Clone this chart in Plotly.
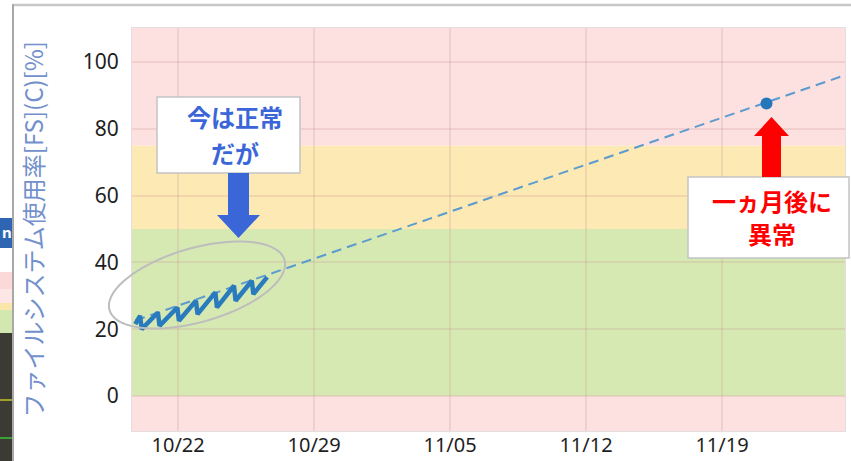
import numpy as np
import plotly.graph_objects as go

# --- data -------------------------------------------------------------
# measured filesystem usage (daily sawtooth), vertex timestamps and values
usage_time = [
    "2020-10-19 19:00", "2020-10-20 01:00", "2020-10-20 03:00",
    "2020-10-20 23:00", "2020-10-21 01:00", "2020-10-21 23:00",
    "2020-10-22 01:00", "2020-10-22 22:00", "2020-10-23 00:00",
    "2020-10-23 22:00", "2020-10-24 00:00", "2020-10-24 21:00",
    "2020-10-24 23:00", "2020-10-25 19:00", "2020-10-25 21:00",
    "2020-10-26 14:00",
]
usage_pct = [
    21.5, 24.0, 20.0,
    25.0, 21.0, 26.5,
    22.5, 28.5, 24.5,
    31.0, 26.5, 33.0,
    28.5, 34.5, 30.5,
    35.6,
]

# linear trend (forecast) line
trend_time = ["2020-10-19 19:00", "2020-11-25 12:00"]
trend_pct = [22.6, 96.4]

# forecast point one month ahead
forecast_time = ["2020-11-21 07:00"]
forecast_pct = [87.6]

# threshold bands (lower, upper, colour)
bands = [
    (-10.5, 0, "#fde0e0"),
    (0, 50, "#d6e9b3"),
    (50, 75, "#fde9b3"),
    (75, 110.2, "#fde0e0"),
]

y_ticks = [0, 20, 40, 60, 80, 100]

# --- layout geometry (pixels) ----------------------------------------
W, H = 851, 461
L, R, T, B = 132, 845, 28, 431


def px(x):
    return (x - L) / (R - L)


def py(y):
    return (B - y) / (B - T)


def poly(points):
    return "M " + " L ".join(f"{px(a):.5f},{py(b):.5f}" for a, b in points) + " Z"


fig = go.Figure()

fig.add_trace(go.Scatter(
    x=trend_time, y=trend_pct, mode="lines",
    line=dict(color="#5b9bd0", width=2, dash="10px,6px"),
    hoverinfo="skip", showlegend=False,
))
fig.add_trace(go.Scatter(
    x=usage_time, y=usage_pct, mode="lines",
    line=dict(color="#2a7bbd", width=4.5),
    showlegend=False,
))
fig.add_trace(go.Scatter(
    x=forecast_time, y=forecast_pct, mode="markers",
    marker=dict(color="#2577bb", size=12),
    showlegend=False,
))

shapes = []
for lo, hi, col in bands:
    shapes.append(dict(type="rect", xref="paper", yref="y", x0=0, x1=1,
                       y0=lo, y1=hi, fillcolor=col, line_width=0, layer="below"))

# neighbouring window strip on the far left
strip = [
    (218, 248, "#2f66b3"),
    (248, 272, "#ffffff"),
    (272, 289, "#fbd9d9"),
    (289, 303, "#fde6e6"),
    (303, 310, "#f9e6a8"),
    (310, 333, "#d3e7b0"),
    (333, 461, "#3b3b34"),
]
for y0, y1, col in strip:
    shapes.append(dict(type="rect", xref="paper", yref="paper",
                       x0=px(0), x1=px(12), y0=py(y1), y1=py(y0),
                       fillcolor=col, line_width=0, layer="above"))
for yl, col in [(400, "#c9c12a"), (438, "#3cc23c")]:
    shapes.append(dict(type="line", xref="paper", yref="paper",
                       x0=px(0), x1=px(12), y0=py(yl), y1=py(yl),
                       line=dict(color=col, width=1.5)))
# window frame lines
shapes.append(dict(type="line", xref="paper", yref="paper",
                   x0=px(13), x1=px(851), y0=py(5), y1=py(5),
                   line=dict(color="#c8c8c8", width=2.5)))
shapes.append(dict(type="line", xref="paper", yref="paper",
                   x0=px(13), x1=px(13), y0=py(4), y1=py(461),
                   line=dict(color="#a8a8a8", width=2)))

# ellipse around the measured data
t = np.linspace(0, 2 * np.pi, 120)
cx, cy, a, b, ang = 197, 285, 91, 37, np.deg2rad(16)
ex = cx + a * np.cos(t) * np.cos(ang) + b * np.sin(t) * np.sin(ang)
ey = cy - a * np.cos(t) * np.sin(ang) + b * np.sin(t) * np.cos(ang)
shapes.append(dict(type="path", xref="paper", yref="paper",
                   path=poly(list(zip(ex, ey))),
                   line=dict(color="#bdbdbd", width=2), fillcolor="rgba(0,0,0,0)"))

# call-out boxes
shapes.append(dict(type="rect", xref="paper", yref="paper",
                   x0=px(157), x1=px(300), y0=py(173), y1=py(97),
                   fillcolor="white", line=dict(color="#c4c4c4", width=1.5)))
shapes.append(dict(type="rect", xref="paper", yref="paper",
                   x0=px(688), x1=px(849), y0=py(258), y1=py(177),
                   fillcolor="white", line=dict(color="#c4c4c4", width=1.5)))

# block arrows
blue_arrow = [(228, 173), (249, 173), (249, 215), (260, 215), (238.5, 238),
              (217, 215), (228, 215)]
red_arrow = [(762, 177), (781, 177), (781, 136), (789, 136), (771.5, 117),
             (754, 136), (762, 136)]
shapes.append(dict(type="path", xref="paper", yref="paper", path=poly(blue_arrow),
                   fillcolor="#3b66d8", line_width=0))
shapes.append(dict(type="path", xref="paper", yref="paper", path=poly(red_arrow),
                   fillcolor="#ff0000", line_width=0))

cjk = "Noto Sans CJK JP"


def label(text, x, y, size, color, family=cjk, angle=0):
    return dict(text=text, xref="paper", yref="paper", x=px(x), y=py(y),
                textangle=angle, showarrow=False,
                xanchor="center", yanchor="middle",
                font=dict(family=family, size=size, color=color))


annotations = [
    label("ファイルシステム使用率[FS](C)[%]", 32, 229.5, 24, "#7290cc", angle=-90),
    label("<b>今は正常</b>", 235, 117, 24, "#3b66d8"),
    label("<b>だが</b>", 235, 152, 24, "#3b66d8"),
    label("<b>一ヵ月後に</b>", 772, 200, 24, "#ff0000"),
    label("<b>異常</b>", 772, 234, 24, "#ff0000"),
    label("<b>n</b>", 7, 232, 15, "white", family="Noto Sans"),
]

grid = "rgba(200,140,140,0.2)"
fig.update_layout(
    width=W, height=H, autosize=False,
    margin=dict(l=L, r=W - R, t=T, b=H - B, pad=0),
    paper_bgcolor="white", plot_bgcolor="white",
    shapes=shapes, annotations=annotations, showlegend=False,
    xaxis=dict(
        type="date", range=["2020-10-19 15:00", "2020-11-25 08:00"],
        tick0="2020-10-22", dtick=7 * 86400000, tickformat="%m/%d",
        showgrid=True, gridcolor=grid, gridwidth=1.5,
        showline=True, mirror=True, linecolor="#e6dede", linewidth=1,
        ticks="", ticklabelstandoff=-4,
        tickfont=dict(family="Noto Sans", size=20, color="#1e1e1e"),
        zeroline=False, automargin=False,
    ),
    yaxis=dict(
        range=[-10.5, 110.2], tickvals=y_ticks,
        showgrid=True, gridcolor=grid, gridwidth=1.5,
        showline=True, mirror=True, linecolor="#e6dede", linewidth=1,
        ticks="", ticklabelstandoff=8,
        tickfont=dict(family="Noto Sans", size=21, color="#1e1e1e"),
        zeroline=False, automargin=False,
    ),
)

fig.write_html("out.html")
